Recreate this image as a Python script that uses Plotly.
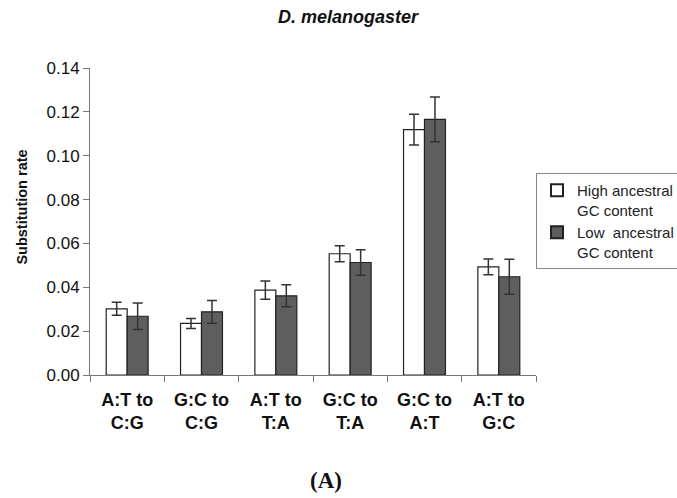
import plotly.graph_objects as go

categories = ["A:T to<br>C:G", "G:C to<br>C:G", "A:T to<br>T:A", "G:C to<br>T:A", "G:C to<br>A:T", "A:T to<br>G:C"]
high_gc = [0.0302, 0.0235, 0.0387, 0.0553, 0.1119, 0.0493]
high_err = [0.0030, 0.0023, 0.0042, 0.0036, 0.0070, 0.0036]
low_gc = [0.0268, 0.0288, 0.0361, 0.0513, 0.1166, 0.0448]
low_err = [0.0060, 0.0052, 0.0050, 0.0058, 0.0102, 0.0080]
y_ticks = [0.00, 0.02, 0.04, 0.06, 0.08, 0.10, 0.12, 0.14]
y_tick_labels = ["0.00", "0.02", "0.04", "0.06", "0.08", "0.10", "0.12", "0.14"]

fig = go.Figure()
fig.add_trace(go.Bar(
    x=categories, y=high_gc, name="High ancestral<br>GC content",
    marker=dict(color="white", line=dict(color="#222222", width=1.2)),
    error_y=dict(type="data", array=high_err, visible=True, color="#333333", thickness=1.5, width=5),
))
fig.add_trace(go.Bar(
    x=categories, y=low_gc, name="Low  ancestral<br>GC content",
    marker=dict(color="#5e5e5e", line=dict(color="#222222", width=1.2)),
    error_y=dict(type="data", array=low_err, visible=True, color="#333333", thickness=1.5, width=5),
))

fig.update_layout(
    width=677, height=498,
    margin=dict(l=90, r=141, t=68, b=123, autoexpand=False),
    paper_bgcolor="white", plot_bgcolor="white",
    barmode="group", bargap=0.436, bargroupgap=0,
    font=dict(family="Liberation Sans, Arial, sans-serif", color="black"),
    showlegend=True,
    legend=dict(
        x=1.0, y=0.658, xanchor="left", yanchor="top",
        bordercolor="#888888", borderwidth=1, bgcolor="white",
        font=dict(size=15, color="#222222"), valign="top",
        tracegroupgap=0, itemsizing="constant",
    ),
    xaxis=dict(
        showline=True, linecolor="#777777", linewidth=1,
        ticks="outside", tickson="boundaries", ticklen=6, tickcolor="#777777",
        tickfont=dict(size=18, weight="bold", color="#111111"),
        ticklabelstandoff=8,
        showgrid=False, zeroline=False,
    ),
    yaxis=dict(
        range=[0, 0.14], tickvals=y_ticks, ticktext=y_tick_labels,
        showline=True, linecolor="#777777", linewidth=1,
        ticks="outside", ticklen=6, tickcolor="#777777",
        tickfont=dict(size=17, color="#111111"),
        showgrid=False, zeroline=False,
    ),
    annotations=[
        dict(text="<b><i>D. melanogaster</i></b>", x=0.5796, y=1.166, xref="paper", yref="paper",
             xanchor="center", yanchor="middle", showarrow=False, font=dict(size=18, color="#111111")),
        dict(text="<b>Substitution rate</b>", x=-0.152, y=0.546, xref="paper", yref="paper",
             xanchor="center", yanchor="middle", textangle=-90, showarrow=False, font=dict(size=14.5, color="#111111")),
        dict(text="<b>(A)</b>", x=0.529, y=-0.345, xref="paper", yref="paper",
             xanchor="center", yanchor="middle", showarrow=False,
             font=dict(size=23, family="Liberation Serif, Times New Roman, serif", color="#111111")),
    ],
)

fig.write_html("out.html")
